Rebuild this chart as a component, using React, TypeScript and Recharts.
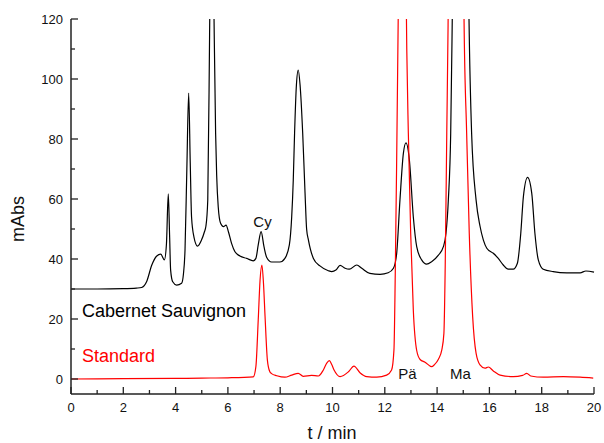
import React from 'react';
import { LineChart, Line, XAxis, YAxis } from 'recharts';

// Cabernet Sauvignon trace (t in min, absorbance in mAbs)
const cabernetTime = [
  0, 1, 2, 2.5, 2.7, 2.89, 3.09, 3.28, 3.43, 3.57, 3.65, 3.72, 3.77, 3.81, 3.89,
  4.04, 4.23, 4.3, 4.36, 4.43, 4.5, 4.56, 4.61, 4.7, 4.84, 4.99, 5.1, 5.16, 5.23,
  5.3, 5.38, 5.47, 5.53, 5.57, 5.63, 5.72, 5.83, 5.93, 6.02, 6.14, 6.27, 6.46,
  6.72, 6.97, 7.07, 7.16, 7.27, 7.38, 7.48, 7.67, 7.99, 8.18, 8.35, 8.44, 8.5,
  8.55, 8.62, 8.69, 8.76, 8.86, 8.95, 9.01, 9.08, 9.27, 9.52, 9.84, 9.97, 10.13,
  10.29, 10.48, 10.64, 10.93, 11.12, 11.43, 11.82, 12.13, 12.33, 12.45, 12.58,
  12.71, 12.81, 12.94, 13.09, 13.22, 13.41, 13.6, 13.79, 14.05, 14.24, 14.34,
  14.43, 14.52, 14.58, 14.66, 14.9, 15.14, 15.22, 15.32, 15.49, 15.64, 15.77,
  15.9, 16.15, 16.34, 16.53, 16.72, 16.91, 17.07, 17.2, 17.3, 17.46, 17.62,
  17.74, 17.87, 18.06, 18.44, 18.96, 19.47, 19.69, 20,
];
const cabernetAbs = [
  30, 30, 30.1, 30.3, 30.5, 32.4, 38, 41, 41.6, 39.7, 45, 61.7, 48, 36.3, 32.4,
  31.3, 31.9, 35, 43, 70, 95.3, 72, 54, 47.4, 44.3, 46.3, 49, 51, 59.7,
  115, 190, 120, 82, 68, 57.4, 51.9, 50.8, 51.3, 49.1, 45.2, 42.4, 41,
  40.2, 39.4, 40.2, 44.7, 49.1, 44.1, 40.6, 39, 39, 40.2, 44.7, 54.1, 66.3,
  82, 98, 103, 98, 82, 62, 50, 46.3, 40.2, 37.7, 36.1, 35.8, 36.3,
  37.9, 36.9, 36.6, 38, 36.9, 35.2, 34.9, 35.4, 36.9, 41.5, 59.7,
  75.2, 78.7, 73, 54.1, 44.1, 39.7, 38.3, 39.1, 41.3, 44.1, 48.6,
  59.7, 81.9, 120, 180, 400, 180, 120, 81.9, 59.7, 51, 46.3,
  43.6, 41.9, 40.2, 38, 36.6, 36.6, 38.6, 48.6, 60.8, 67.2, 61.9,
  48.6, 39.7, 36.6, 35.8, 35.4, 35.4, 36, 35.6,
];

// Standard trace
const standardTime = [
  0, 2, 4, 5, 6, 6.97, 7.07, 7.16, 7.23, 7.3, 7.36, 7.42, 7.51, 7.6, 7.67, 7.87,
  8.18, 8.44, 8.69, 8.88, 9.2, 9.46, 9.65, 9.78, 9.88, 9.97, 10.06, 10.29,
  10.61, 10.82, 11.05, 11.31, 11.69, 12.07, 12.26, 12.35, 12.4, 12.45, 12.5,
  12.56, 12.68, 12.78, 12.84, 12.9, 12.99, 13.09, 13.22, 13.35, 13.54, 13.79,
  13.9, 14.05, 14.18, 14.26, 14.31, 14.37, 14.42, 14.5, 14.74, 15, 15.03,
  15.13, 15.23, 15.36, 15.49, 15.64, 15.83, 15.96, 16.15, 16.41, 16.91, 17.27,
  17.43, 17.58, 18.06, 18.83, 19.47, 19.97,
];
const standardAbs = [
  0, 0.1, 0.2, 0.3, 0.4, 0.7, 4.1, 19.7, 33, 38, 32, 21, 6.3, 2.5, 1.8, 1.1,
  0.6, 1.3, 1.9, 0.9, 1.2, 1, 3, 5.3, 6.1, 4.8, 3, 0.8,
  2.4, 4.3, 2.1, 0.8, 0.6, 1.3, 3, 9.7, 35, 70, 110,
  160, 300, 160, 110, 82, 48.6, 23, 9.5, 6.5, 5.6, 4.1,
  4.8, 6.6, 9.7, 15.2, 37.4, 82, 118, 200, 700, 150, 120,
  82, 48.6, 20.8, 8.6, 4.7, 3.6, 4, 2.7, 1.3, 0.8, 1.2,
  1.9, 1, 0.6, 0.8, 0.6, 0.3,
];

const xTicks = [0, 1, 2, 3, 4, 5, 6, 7, 8, 9, 10, 11, 12, 13, 14, 15, 16, 17, 18, 19, 20];
const yTicks = [0, 10, 20, 30, 40, 50, 60, 70, 80, 90, 100, 110, 120];

const cabernetData = cabernetTime.map((t, i) => ({ t, v: cabernetAbs[i] }));
const standardData = standardTime.map((t, i) => ({ t, v: standardAbs[i] }));

const AXIS = '#222';
const FONT = '"Liberation Sans", Arial, sans-serif';

const XTick = (props: any) => {
  const { x, y, payload } = props;
  const major = payload.value % 2 === 0;
  return (
    <g>
      <line x1={x} x2={x} y1={y} y2={y - (major ? 7 : 4)} stroke={AXIS} strokeWidth={1.3} />
      {major && (
        <text x={x} y={y + 18} textAnchor="middle" fontSize={13} fill="#111" fontFamily={FONT}>
          {payload.value}
        </text>
      )}
    </g>
  );
};

const YTick = (props: any) => {
  const { x, y, payload } = props;
  const major = payload.value % 20 === 0;
  return (
    <g>
      <line x1={x} x2={x + (major ? 7 : 4)} y1={y} y2={y} stroke={AXIS} strokeWidth={1.3} />
      {major && (
        <text x={x - 8} y={y + 4.5} textAnchor="end" fontSize={13} fill="#111" fontFamily={FONT}>
          {payload.value}
        </text>
      )}
    </g>
  );
};

export default function App() {
  return (
    <div style={{ position: 'absolute', left: 0, top: 0, width: 604, height: 443, background: '#fff', fontFamily: FONT }}>
      <LineChart width={604} height={443} margin={{ top: 19, right: 10, bottom: 0, left: 0 }}>
        <XAxis
          type="number"
          dataKey="t"
          domain={[0, 20]}
          ticks={xTicks}
          interval={0}
          height={49}
          tickSize={0}
          tickMargin={0}
          tickLine={false}
          tick={XTick}
          axisLine={{ stroke: AXIS, strokeWidth: 1.5 }}
          allowDuplicatedCategory={false}
        />
        <YAxis
          type="number"
          domain={[-5, 120]}
          ticks={yTicks}
          interval={0}
          width={71}
          tickSize={0}
          tickMargin={0}
          tickLine={false}
          tick={YTick}
          allowDataOverflow
          axisLine={{ stroke: AXIS, strokeWidth: 1.5 }}
        />
        <Line
          data={cabernetData}
          dataKey="v"
          type="monotone"
          stroke="#000"
          strokeWidth={1.2}
          dot={false}
          activeDot={false}
          isAnimationActive={false}
        />
        <Line
          data={standardData}
          dataKey="v"
          type="monotone"
          stroke="#ff0000"
          strokeWidth={1.2}
          dot={false}
          activeDot={false}
          isAnimationActive={false}
        />
      </LineChart>
      <svg width={604} height={443} style={{ position: 'absolute', left: 0, top: 0, pointerEvents: 'none' }}>
        <g fontFamily={FONT}>
          <text x={262.5} y={227} textAnchor="middle" fontSize={15} fill="#111">Cy</text>
          <text x={407.5} y={378.5} textAnchor="middle" fontSize={15} fill="#111">Pä</text>
          <text x={460.5} y={378.5} textAnchor="middle" fontSize={15} fill="#111">Ma</text>
          <text x={82} y={316.5} fontSize={18} fill="#000">Cabernet Sauvignon</text>
          <text x={82} y={362} fontSize={18} fill="#ff0000">Standard</text>
          <text x={332} y={438.5} textAnchor="middle" fontSize={18} fill="#111">t / min</text>
          <text x={24} y={219} textAnchor="middle" fontSize={18} fill="#111" transform="rotate(-90 24 219)">mAbs</text>
        </g>
      </svg>
    </div>
  );
}
